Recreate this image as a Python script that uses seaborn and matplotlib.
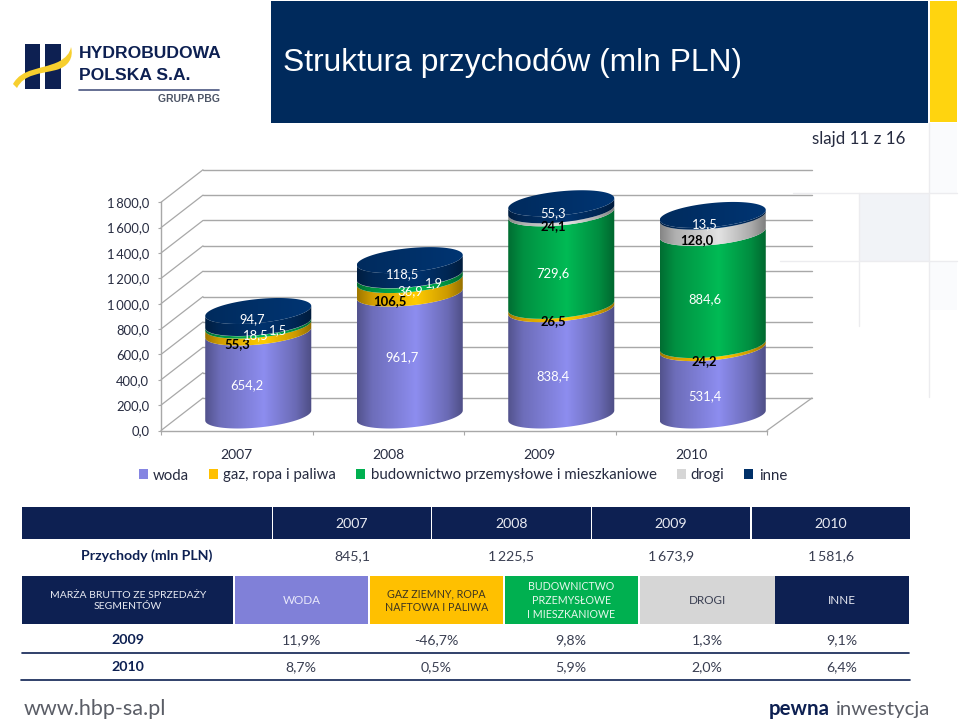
import numpy as np
import pandas as pd
import matplotlib
matplotlib.use("Agg")
import matplotlib.pyplot as plt
import seaborn as sns
from matplotlib.colors import LinearSegmentedColormap, to_rgb
from matplotlib.patches import Patch, Rectangle, PathPatch
from matplotlib.path import Path
from matplotlib.transforms import Affine2D

# Data
years = ["2007", "2008", "2009", "2010"]
series_names = ["woda", "gaz, ropa i paliwa", "budownictwo przemysłowe i mieszkaniowe", "drogi", "inne"]
woda = [654.2, 961.7, 838.4, 531.4]
gaz = [55.3, 106.5, 26.5, 24.2]
budownictwo = [18.5, 36.9, 729.6, 884.6]
drogi = [1.5, 1.9, 24.1, 128.0]
inne = [94.7, 118.5, 55.3, 13.5]
y_ticks = [0, 200, 400, 600, 800, 1000, 1200, 1400, 1600, 1800]
y_tick_labels = ["0,0", "200,0", "400,0", "600,0", "800,0", "1\u2009000,0", "1\u2009200,0", "1\u2009400,0", "1\u2009600,0", "1\u2009800,0"]

przychody = ["845,1", "1\u2009225,5", "1\u2009673,9", "1\u2009581,6"]
segment_headers = ["WODA", "GAZ ZIEMNY, ROPA\nNAFTOWA I PALIWA", "BUDOWNICTWO\nPRZEMYSŁOWE\nI MIESZKANIOWE", "DROGI", "INNE"]
marza_2009 = ["11,9%", "-46,7%", "9,8%", "1,3%", "9,1%"]
marza_2010 = ["8,7%", "0,5%", "5,9%", "2,0%", "6,4%"]

# Styling
WODA = "#8585e2"
GAZ = "#ffc000"
BUD = "#00b050"
DROGI = "#d6d6d6"
INNE = "#003068"
NAVY = "#002a5c"
TABLE_NAVY = "#0d2052"
GRID = "#a8a8a8"
series_colors = [WODA, GAZ, BUD, DROGI, INNE]
label_colors = ["white", "black", "white", "black", "white"]

sns.set_theme(style="white")
plt.rcParams["font.family"] = ["Lato", "DejaVu Sans"]
FONT = 9.4

fig = plt.figure(figsize=(9.6, 7.28), dpi=100, facecolor="white")

# page layer in pixel coordinates
bg = fig.add_axes([0, 0, 1, 1], zorder=0)
bg.set_xlim(0, 960)
bg.set_ylim(728, 0)
bg.axis("off")


def box(x0, y0, x1, y1, color, z=1):
    bg.add_patch(Rectangle((x0, y0), x1 - x0, y1 - y0, facecolor=color, edgecolor="none", zorder=z))


def put(x, y, s, size=FONT, color="#262b40", ha="center", **kw):
    return bg.text(x, y, s, fontsize=size, color=color, ha=ha, va="center", zorder=5, **kw)


# faint leftovers of the slide template
box(859, 193, 929, 261, "#f1f3f7")
box(930, 123, 957, 193, "#fafbfd")
box(930, 262, 957, 310, "#fafbfd")
for x0, y0, x1, y1 in [(793, 193, 957, 193), (780, 261, 957, 261), (859, 193, 859, 326), (929, 123, 929, 397)]:
    bg.plot([x0, x1], [y0, y1], color="#ececef", lw=1.0, zorder=1)

# header
box(271, 1, 928, 123, NAVY)
box(930, 1, 957, 122, "#ffd40f")
put(283, 62.5, "Struktura przychodów (mln PLN)", size=22.9, color="white", ha="left", family="Liberation Sans")
put(905, 139, "slajd 11 z 16", size=12.2, ha="right")

# logo
box(25, 44, 40, 89, TABLE_NAVY)
box(45, 44, 61, 89, TABLE_NAVY)
swoosh = Path(
    [(13, 84), (22, 68), (40, 70), (58, 62), (66, 58), (70, 53), (71, 47), (74, 58), (68, 67), (56, 70), (40, 74), (24, 74), (17, 88), (13, 84)],
    [Path.MOVETO, Path.CURVE4, Path.CURVE4, Path.CURVE4, Path.CURVE4, Path.CURVE4, Path.CURVE4,
     Path.CURVE4, Path.CURVE4, Path.CURVE4, Path.CURVE4, Path.CURVE4, Path.CURVE4, Path.CLOSEPOLY],
)
bg.add_patch(PathPatch(swoosh, facecolor="#f7cf2e", edgecolor="none", zorder=2))
put(79, 54, "HYDROBUDOWA", size=12.6, color=TABLE_NAVY, ha="left", family="Liberation Sans", weight="bold")
put(79, 75, "POLSKA S.A.", size=12.6, color=TABLE_NAVY, ha="left", family="Liberation Sans", weight="bold")
bg.plot([79, 219], [90, 90], color="#4a5680", lw=1.2, zorder=2)
put(220, 99, "GRUPA PBG", size=7.5, color="#4d5566", ha="right", family="Liberation Sans", weight="bold")

# chart: axes is the front plane of the 3-D box, the cylinders sit deeper
PX_LEFT, PX_RIGHT, PX_ZERO, PX_PER_UNIT = 161, 767, 430.5, 0.1268
ax = fig.add_axes([PX_LEFT / 960, (728 - PX_ZERO) / 728, (PX_RIGHT - PX_LEFT) / 960, 1800 * PX_PER_UNIT / 728],
                  facecolor="none", zorder=2)

bottom = np.zeros(len(years))
seg_info = []
for name, vals, col in zip(series_names, [woda, gaz, budownictwo, drogi, inne], series_colors):
    frame = pd.DataFrame({"rok": years, "wartosc": vals})
    n_before = len(ax.patches)
    sns.barplot(data=frame, x="rok", y="wartosc", color=col, width=0.7, errorbar=None,
                bottom=bottom, ax=ax)
    seg_info.append(list(ax.patches[n_before:]))
    bottom = bottom + np.array(vals)

ax.set_xlim(-0.5, 3.5)
ax.set_ylim(0, 1800)

# walls: x in axes fraction, y in data
wall = ax.get_yaxis_transform()
lift = 32.5 / PX_PER_UNIT
back_l, back_r = 42 / 606, 1 + 45 / 606
for v in y_ticks:
    ax.plot([back_l, back_r], [v + lift, v + lift], transform=wall, color=GRID, lw=1.0, clip_on=False, zorder=1)
    ax.plot([0, back_l], [v, v + lift], transform=wall, color=GRID, lw=0.9, clip_on=False, zorder=1)
ax.plot([1, back_r], [0, lift], transform=wall, color=GRID, lw=0.9, clip_on=False, zorder=1)

# cylinders, built from the bars seaborn placed
bar_trans = ax.transData + Affine2D().translate(21.5, 15)
RY, TILT = 12.0, 5.0
ARC = np.linspace(np.pi, 0, 60)


def arc(cx, rx, v, t):
    return np.column_stack([cx + rx * np.cos(t), v + (TILT * np.cos(t) - RY * np.sin(t)) / PX_PER_UNIT])


def shade(col, f):
    return tuple(min(1, c * f) for c in to_rgb(col))


def paint(verts, col, x0, x1, v0, v1, z, anchors):
    cmap = LinearSegmentedColormap.from_list("c", [(p, shade(col, f)) for p, f in anchors])
    margin = (RY + TILT) / PX_PER_UNIT
    grad = np.linspace(0, 1, 256).reshape(1, -1)
    im = ax.imshow(grad, extent=(x0, x1, v0 - margin, v1 + margin), aspect="auto", cmap=cmap,
                   transform=bar_trans, zorder=z, interpolation="bilinear")
    im.set_clip_path(Path(verts), bar_trans)
    im.set_clip_box(fig.bbox)


side = [(0, 0.62), (0.14, 0.82), (0.55, 1.06), (0.85, 0.8), (1, 0.58)]
flat = [(0, 0.9), (0.5, 1.0), (1, 1.1)]
for s, patches in enumerate(seg_info):
    for p in patches:
        p.set_visible(False)
        rx = p.get_width() / 2
        cx = p.get_x() + rx
        v0, v1 = p.get_y(), p.get_y() + p.get_height()
        verts = np.vstack([arc(cx, rx, v0, ARC), arc(cx, rx, v1, ARC[::-1])])
        paint(verts, series_colors[s], cx - rx, cx + rx, v0, v1, 3 + s * 0.1, side)
        if s == len(seg_info) - 1:
            cap = arc(cx, rx, v1, np.linspace(0, 2 * np.pi, 120))
            paint(cap, series_colors[s], cx - rx, cx + rx, v1, v1, 4, flat)

# value labels, nudged (pixels) as on the slide
default_nudge = (-8, -14)
nudges = {
    (0, 0): (-11, -11), (0, 1): (-21, -15), (0, 2): (-3, -11), (0, 3): (20, -7), (0, 4): (-6, -2),
    (1, 0): (-8, -3), (1, 1): (-20, -14), (1, 2): (1, -13), (1, 3): (24, -8), (1, 4): (-7, -7),
    (2, 4): (-8, -6), (3, 2): (-8, -10), (3, 3): (-16, -15), (3, 4): (-8, -8),
}
for s, (patches, vals) in enumerate(zip(seg_info, [woda, gaz, budownictwo, drogi, inne])):
    for i, p in enumerate(patches):
        color = label_colors[s]
        if s == 3 and i < 2:
            color = "white"
        ax.annotate(f"{vals[i]:.1f}".replace(".", ","), (p.get_x() + p.get_width() / 2, p.get_y() + p.get_height() / 2),
                    xycoords=bar_trans, xytext=nudges.get((i, s), default_nudge), textcoords="offset pixels",
                    ha="center", va="center", fontsize=FONT, color=color, zorder=8,
                    weight="bold" if color == "black" else "normal")

# axes dressing
ax.set_xlabel("")
ax.set_ylabel("")
ax.set_yticks(y_ticks, y_tick_labels)
ax.set_xticks(range(4), years)
ax.set_xticks(np.arange(-0.5, 4), minor=True)
ax.tick_params(axis="y", length=2, width=0.8, color=GRID, pad=6.5, labelsize=FONT, labelcolor="#262b40", left=True)
ax.tick_params(axis="x", which="major", length=0, pad=13, labelsize=10, labelcolor="#262b40")
ax.tick_params(axis="x", which="minor", length=3, width=0.8, color=GRID, bottom=True)
for side_name in ["top", "right"]:
    ax.spines[side_name].set_visible(False)
for side_name in ["left", "bottom"]:
    ax.spines[side_name].set_color(GRID)
    ax.spines[side_name].set_linewidth(1.0)
ax.grid(False)

handles = [Patch(facecolor=c, edgecolor="none") for c in series_colors]
ax.legend(handles, series_names, ncol=5, loc="center", bbox_to_anchor=(463 / 960, (728 - 475.5) / 728),
          bbox_transform=fig.transFigure, frameon=False, fontsize=10.8, labelcolor="#262b40",
          handlelength=0.6, handleheight=0.6, handletextpad=0.35, columnspacing=1.33, borderpad=0, borderaxespad=0)

# revenue table
col_edges = [(22, 272), (273, 431), (432, 591), (592, 750), (752, 910)]
box(*[col_edges[0][0], 507, col_edges[0][1], 539], TABLE_NAVY)
put(147, 556, "Przychody (mln PLN)", size=10.2, weight="bold", color=TABLE_NAVY)
for (x0, x1), yr, val in zip(col_edges[1:], years, przychody):
    box(x0, 507, x1, 539, TABLE_NAVY)
    put((x0 + x1) / 2, 524, yr, size=10.2, color="#e8eaf2")
    put((x0 + x1) / 2, 556, val, size=10.2, color="#3a3f52")

# margin table
seg_edges = [(235, 368), (370, 503), (505, 638), (640, 775), (775, 909)]
seg_fill = ["#8080d8", GAZ, BUD, DROGI, TABLE_NAVY]
seg_text = ["#e9e9fb", "#3d3520", "#e6f7ec", "#3a3f52", "#e8eaf2"]
box(22, 576, 233, 624, TABLE_NAVY)
put(128, 601, "MARŻA BRUTTO ZE SPRZEDAŻY\nSEGMENTÓW", size=7.5, color="#e8eaf2", linespacing=1.3)
for (x0, x1), head, fill, tc, a, b in zip(seg_edges, segment_headers, seg_fill, seg_text, marza_2009, marza_2010):
    box(x0, 576, x1, 624, fill)
    put((x0 + x1) / 2, 600.5, head, size=7.7 if "\n" in head else 8.4, color=tc, linespacing=1.3)
    put((x0 + x1) / 2 - 0.5, 640, a, size=10.2, color="#3a3f52")
    put((x0 + x1) / 2 - 0.5, 667, b, size=10.2, color="#3a3f52")
put(128, 640, "2009", size=10.2, weight="bold", color=TABLE_NAVY)
put(128, 667, "2010", size=10.2, weight="bold", color=TABLE_NAVY)
bg.plot([22, 909], [653, 653], color=TABLE_NAVY, lw=1.2, zorder=2)
bg.plot([21, 910], [680, 680], color=TABLE_NAVY, lw=1.2, zorder=2)

# footer
put(24, 709, "www.hbp-sa.pl", size=15.5, color="#5a5d66", ha="left")
put(769, 709, "pewna", size=14.8, color=TABLE_NAVY, ha="left", weight="bold")
put(836, 709, "inwestycja", size=14.7, color="#5a5d66", ha="left")

fig.savefig("out.png", dpi=100)
